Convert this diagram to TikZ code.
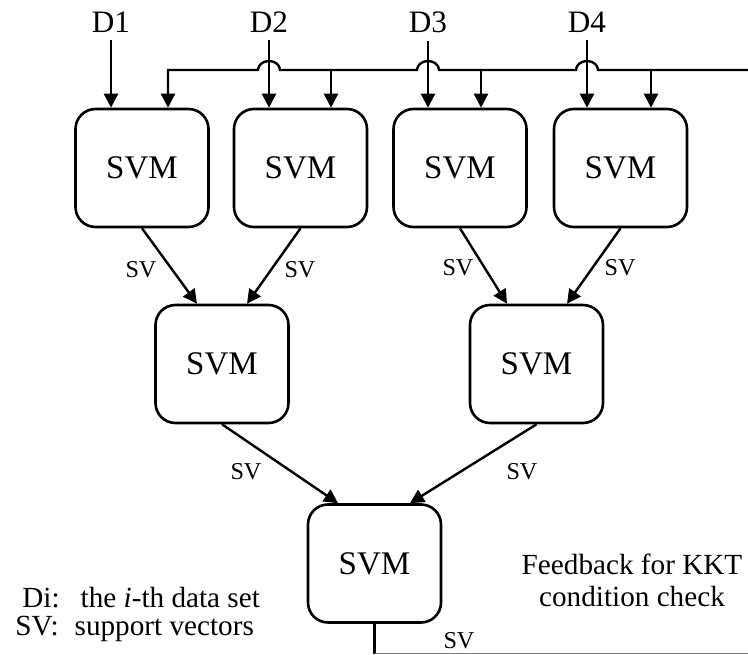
\documentclass[tikz,border=0pt]{standalone}
\usepackage{fontspec}
\setmainfont{Liberation Serif}
\usetikzlibrary{arrows.meta}
\begin{document}
\begin{tikzpicture}[x=0.5pt,y=0.5pt,
  svm/.style={draw, line width=1.3pt, rounded corners=10pt, minimum width=66.5pt, minimum height=59pt, inner sep=0pt, font=\fontsize{16.5pt}{19pt}\selectfont},
  arr/.style={-{Triangle[length=7pt,width=7pt]}, line width=1.2pt},
  plain/.style={line width=1.2pt},
  dlab/.style={font=\fontsize{15.6pt}{18pt}\selectfont, inner sep=3.5pt, anchor=base},
  svlab/.style={font=\fontsize{12.1pt}{14pt}\selectfont, inner sep=0pt},
  txt/.style={font=\fontsize{14.6pt}{16pt}\selectfont, inner sep=0pt}
]
\useasboundingbox (0,0) rectangle (748,654);
% SVM boxes
\node[svm] (b1) at (142,486) {SVM};
\node[svm] (b2) at (300.5,486) {SVM};
\node[svm] (b3) at (460,486) {SVM};
\node[svm] (b4) at (620.5,486) {SVM};
\node[svm] (m1) at (222,290) {SVM};
\node[svm] (m2) at (536.5,290) {SVM};
\node[svm] (r) at (374.5,90.5) {SVM};
% data set labels
\node[dlab] (d1) at (111,621) {D1};
\node[dlab] (d2) at (269,621) {D2};
\node[dlab] (d3) at (428,621) {D3};
\node[dlab] (d4) at (587,621) {D4};
\draw[arr] (d1.south) -- (d1.south |- b1.north);
\draw[arr] (d2.south) -- (d2.south |- b2.north);
\draw[arr] (d3.south) -- (d3.south |- b3.north);
\draw[arr] (d4.south) -- (d4.south |- b4.north);
% feedback line with hops
\coordinate (fR) at (748,584);
\coordinate (f1) at (168,584);
\coordinate (f2) at (331,584);
\coordinate (f3) at (481,584);
\coordinate (f4) at (651,584);
\draw[arr] (fR) -- (598,584)
  arc[start angle=0, end angle=180, x radius=5.5pt, y radius=4.5pt] -- (439,584)
  arc[start angle=0, end angle=180, x radius=5.5pt, y radius=4.5pt] -- (280,584)
  arc[start angle=0, end angle=180, x radius=5.5pt, y radius=4.5pt] -- (f1)
  -- (f1 |- b1.north);
\draw[arr] (f2) -- (f2 |- b2.north);
\draw[arr] (f3) -- (f3 |- b3.north);
\draw[arr] (f4) -- (f4 |- b4.north);
% support vector arrows
\draw[arr] (b1.south) -- ([xshift=-12.5pt]m1.north);
\draw[arr] (b2.south) -- ([xshift=12.5pt]m1.north);
\draw[arr] (b3.south) -- ([xshift=-14.75pt]m2.north);
\draw[arr] (b4.south) -- ([xshift=15.25pt]m2.north);
\draw[arr] (m1.south) -- ([xshift=-18.25pt]r.north);
\draw[arr] (m2.south) -- ([xshift=17.75pt]r.north);
% SV labels
\node[svlab] (sv1) at (141,384) {SV};
\node[svlab] (sv2) at (300,384) {SV};
\node[svlab] (sv3) at (458,386) {SV};
\node[svlab] (sv4) at (620,386) {SV};
\node[svlab] (sv5) at (246,182) {SV};
\node[svlab] (sv6) at (522,182) {SV};
\node[svlab] (sv7) at (459,13) {SV};
% bottom feedback output
\coordinate (bb) at (374.5,0);
\coordinate (bR) at (748,1);
\draw[plain] (r.south) -- (bb);
\draw[gray, line width=0.5pt] (bb |- bR) -- (bR);
% texts
\node[txt, align=center] (fb) at (632,74) {Feedback for KKT\\condition check};
\node[txt, anchor=base west] (lg1) at (22,47) {Di:\hspace{10.5pt}the \textit{i}-th data set};
\node[txt, anchor=base west] (lg2) at (15,19) {SV:\hspace{8pt}support vectors};
\end{tikzpicture}
\end{document}
